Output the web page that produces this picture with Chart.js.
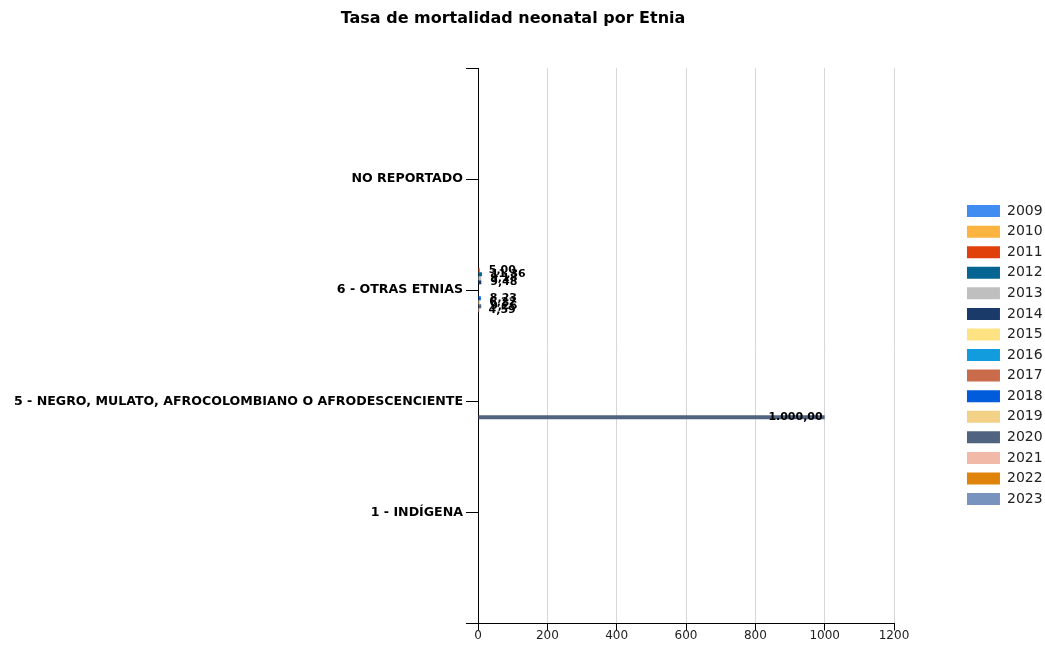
<!DOCTYPE html>
<html>
<head>
<meta charset="utf-8">
<script src="https://cdn.jsdelivr.net/npm/chart.js@4.4.1/dist/chart.umd.min.js"></script>
<style>
  html, body { margin: 0; padding: 0; background: #ffffff; }
  canvas { display: block; }
</style>
</head>
<body>
<canvas id="chart" width="1045" height="646"></canvas>
<script>
// Years shown as series (one bar per year inside each ethnic group)
const years = ['2009', '2010', '2011', '2012', '2013', '2014', '2015', '2016',
               '2017', '2018', '2019', '2020', '2021', '2022', '2023'];

// Ethnic groups, top to bottom
const categories = [
  'NO REPORTADO',
  '6 - OTRAS ETNIAS',
  '5 - NEGRO, MULATO, AFROCOLOMBIANO O AFRODESCENCIENTE',
  '1 - INDÍGENA'
];

// Neonatal mortality rate per group, one value per year (null = no data)
const noReportado = [null, null, null, null, null, null, null, null, null, null, null, null, null, null, null];
const otrasEtnias = [null, null, 5.00, 11.36, 9.18, 9.48, null, null, null, 8.23, 6.22, 9.26, 4.59, null, null];
const negroAfro   = [null, null, null, null, null, null, null, null, null, null, null, 1000.00, null, null, null];
const indigena    = [null, null, null, null, null, null, null, null, null, null, null, null, null, null, null];

// Value axis tick labels
const xTicks = [0, 200, 400, 600, 800, 1000, 1200];

// Series colours (BrightPastel palette)
const palette = ['#418CF0', '#FCB441', '#E0400A', '#056492', '#BFBFBF', '#1A3B69', '#FFE382', '#129CDD',
                 '#CA6B4B', '#005CDB', '#F3D288', '#506381', '#F1B9A8', '#E0830A', '#7893BE'];

// Empty slots at both ends leave a blank band above and below the groups
const axisLabels = ['', ...categories, ''];
const byCategory = [noReportado, otrasEtnias, negroAfro, indigena];

const datasets = years.map((year, i) => ({
  label: year,
  data: [null, ...byCategory.map(arr => arr[i]), null],
  backgroundColor: palette[i],
  borderColor: palette[i],
  borderWidth: 0,
  categoryPercentage: 0.54,
  barPercentage: 1.0
}));

function formatRate(v) {
  const parts = v.toFixed(2).split('.');
  return parts[0].replace(/\B(?=(\d{3})+(?!\d))/g, '.') + ',' + parts[1];
}

// Draws each bar's value: inside the bar end when it fits, otherwise just past it
const valueLabels = {
  id: 'valueLabels',
  afterDatasetsDraw(chart) {
    const ctx = chart.ctx;
    ctx.save();
    ctx.font = 'bold 11px "DejaVu Sans"';
    ctx.fillStyle = '#000000';
    ctx.textBaseline = 'middle';
    chart.data.datasets.forEach((ds, di) => {
      const meta = chart.getDatasetMeta(di);
      meta.data.forEach((bar, j) => {
        const v = ds.data[j];
        if (v === null || v === undefined) return;
        const text = formatRate(v);
        const w = ctx.measureText(text).width;
        const len = bar.x - bar.base;
        if (len > w + 6) {
          ctx.textAlign = 'right';
          ctx.fillText(text, bar.x - 2, bar.y);
        } else {
          ctx.textAlign = 'left';
          ctx.fillText(text, bar.x + 9, bar.y);
        }
      });
    });
    ctx.restore();
  }
};

new Chart(document.getElementById('chart'), {
  type: 'bar',
  data: { labels: axisLabels, datasets },
  plugins: [valueLabels],
  options: {
    indexAxis: 'y',
    responsive: false,
    animation: false,
    layout: { padding: { left: -26.6, right: -7.6, top: 0, bottom: 0 } },
    plugins: {
      title: {
        display: true,
        text: 'Tasa de mortalidad neonatal por Etnia',
        color: '#000000',
        font: { family: '"DejaVu Sans"', size: 16, weight: 'bold' },
        padding: { top: 9, bottom: 39.8 }
      },
      legend: {
        position: 'right',
        align: 'center',
        fullSize: false,
        title: { display: true, text: '', font: { size: 10 }, padding: { top: 6.6, bottom: 0 } },
        labels: {
          boxWidth: 33,
          boxHeight: 12,
          padding: 6.57,
          color: '#222222',
          font: { family: '"DejaVu Sans"', size: 14 }
        }
      },
      tooltip: { enabled: false }
    },
    scales: {
      x: {
        type: 'linear',
        position: 'bottom',
        min: 0,
        max: 1200,
        afterBuildTicks: s => { s.ticks = xTicks.map(v => ({ value: v })); },
        ticks: {
          color: '#222222',
          padding: -2,
          maxRotation: 0,
          callback: v => String(v),
          font: { family: '"DejaVu Sans"', size: 12 }
        },
        grid: { color: '#d6d6d6', tickColor: '#000000', tickLength: 7, drawOnChartArea: true },
        border: { color: '#000000', width: 1 },
        afterFit: s => { s.height = 22.5; }
      },
      y: {
        type: 'category',
        position: 'left',
        offset: false,
        grid: { offset: false, drawOnChartArea: false, color: '#000000', tickLength: 12 },
        border: { color: '#000000', width: 1 },
        ticks: {
          autoSkip: false,
          color: '#000000',
          padding: 3,
          font: { family: '"DejaVu Sans"', size: 12.6, weight: 'bold' }
        },
        afterFit: s => { s.width = 504.6; }
      },
      gap: {
        type: 'linear',
        position: 'right',
        grid: { display: false },
        border: { display: false },
        ticks: { display: false },
        afterFit: s => { s.width = 66.4; }
      }
    }
  }
});
</script>
</body>
</html>
